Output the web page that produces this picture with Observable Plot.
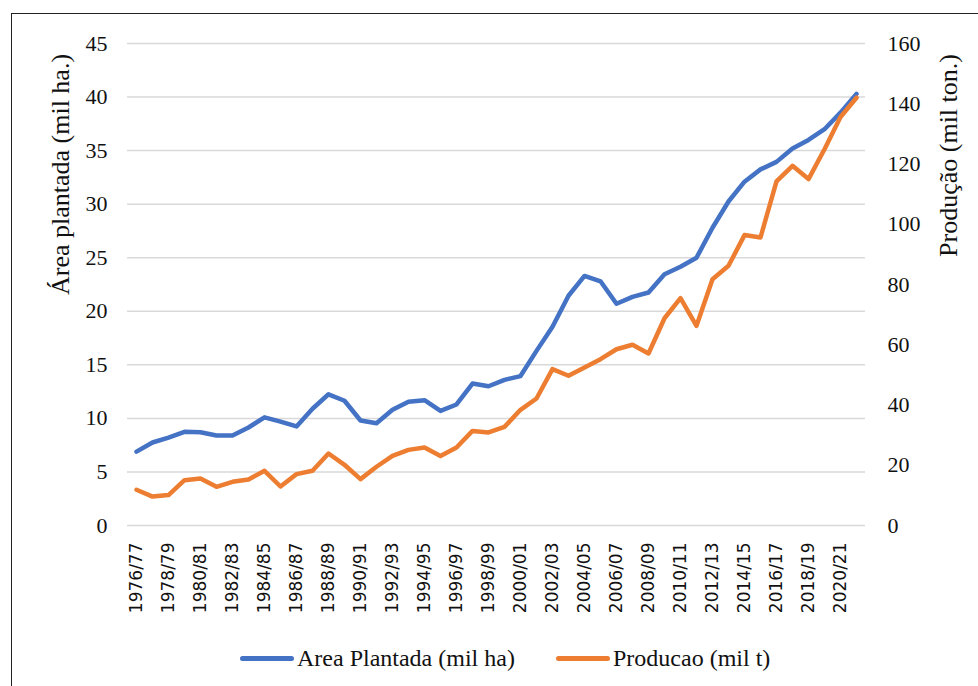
<!DOCTYPE html>
<html><head><meta charset="utf-8">
<script src="https://cdn.jsdelivr.net/npm/d3@7"></script>
<script src="https://cdn.jsdelivr.net/npm/@observablehq/plot@0.6"></script>
<style>
body{margin:0;background:#fff;}
#wrap{position:relative;width:978px;height:686px;overflow:hidden;background:#fff;}
#chart{position:absolute;left:0;top:0;}
#border{position:absolute;left:11px;top:13px;width:1000px;height:700px;border-left:1.3px solid #222;border-top:1.3px solid #222;pointer-events:none;}
.leg-line{position:absolute;height:5px;border-radius:3px;top:656px;width:54px;}
.leg-text{position:absolute;top:644px;font-size:24px;color:#111;white-space:nowrap;line-height:28px;}
</style>
</head><body>
<div id="wrap">
  <div id="chart"></div>
  <div id="border"></div>
  <div id="legend"></div>
</div>
<script>
const seasons = ["1976/77","1977/78","1978/79","1979/80","1980/81","1981/82","1982/83","1983/84","1984/85","1985/86",
"1986/87","1987/88","1988/89","1989/90","1990/91","1991/92","1992/93","1993/94","1994/95","1995/96",
"1996/97","1997/98","1998/99","1999/00","2000/01","2001/02","2002/03","2003/04","2004/05","2005/06",
"2006/07","2007/08","2008/09","2009/10","2010/11","2011/12","2012/13","2013/14","2014/15","2015/16",
"2016/17","2017/18","2018/19","2019/20","2020/21","2021/22"];
const areaPlantada = [6.9,7.75,8.2,8.75,8.7,8.4,8.4,9.15,10.1,9.7,
9.25,10.9,12.25,11.65,9.8,9.55,10.8,11.55,11.7,10.7,
11.3,13.25,13.0,13.6,13.95,16.3,18.55,21.45,23.3,22.8,
20.7,21.35,21.75,23.45,24.15,25.0,27.8,30.25,32.1,33.25,
33.95,35.2,36.0,37.0,38.55,40.3];
const producao = [11.85,9.6,10.1,15.05,15.6,12.85,14.5,15.3,18.15,12.95,
17.05,18.15,23.9,20.15,15.4,19.5,23.1,25.1,25.9,23.1,
25.9,31.4,30.9,32.75,38.4,42.15,51.9,49.7,52.45,55.2,
58.5,60.0,57.1,68.8,75.45,66.3,81.75,86.2,96.4,95.6,
114.2,119.4,115.0,124.9,135.6,142.0];
const leftTicks = [0,5,10,15,20,25,30,35,40,45];
const rightTicks = [0,20,40,60,80,100,120,140,160];
const leftMax = 45, rightMax = 160;
const xTickLabels = seasons.filter((d,i) => i % 2 === 0);
const leftTitle = "Área plantada (mil ha.)";
const rightTitle = "Produção (mil ton.)";
const seriesNames = ["Area Plantada (mil ha)", "Producao (mil t)"];
const seriesColors = ["#4472C4", "#ED7D31"];

const serif = "'Liberation Serif','Times New Roman',Times,'DejaVu Serif',serif";
const rows = seasons.map((s,i) => ({season: s, area: areaPlantada[i], prod: producao[i]}));
const toLeft = v => v * leftMax / rightMax;

const chart = Plot.plot({
  width: 978,
  height: 625,
  marginLeft: 127,
  marginRight: 113,
  marginTop: 43,
  marginBottom: 100,
  style: {fontFamily: serif, fontSize: "22px", color: "#111", background: "transparent", overflow: "visible"},
  x: {type: "point", domain: seasons, padding: 0.5, axis: null},
  y: {domain: [0, leftMax], axis: null},
  marks: [
    Plot.gridY(leftTicks, {stroke: "#d9d9d9", strokeOpacity: 1, strokeWidth: 1.5}),
    Plot.axisY(leftTicks, {anchor: "left", tickSize: 0, tickPadding: 20, fontSize: 22, fontFamily: serif, className: "yserif", fill: "#111", label: null}),
    Plot.axisY(rightTicks.map(toLeft), {anchor: "right", tickSize: 0, tickPadding: 22, fontSize: 22, fontFamily: serif, className: "yserif", fill: "#111", label: null, tickFormat: d => String(Math.round(d * rightMax / leftMax))}),
    Plot.axisX(xTickLabels, {anchor: "bottom", tickSize: 0, tickPadding: 17, tickRotate: -90, fontSize: 17, fontFamily: "DejaVu Sans", fill: "#111", label: null}),
    Plot.lineY(rows, {x: "season", y: "area", stroke: seriesColors[0], strokeWidth: 4.5, strokeLinejoin: "round", strokeLinecap: "round"}),
    Plot.lineY(rows, {x: "season", y: d => toLeft(d.prod), stroke: seriesColors[1], strokeWidth: 4.5, strokeLinejoin: "round", strokeLinecap: "round"}),
    Plot.text([leftTitle], {frameAnchor: "left", textAnchor: "middle", dx: -67, dy: -110, rotate: -90, fontSize: 26, fontFamily: serif, fill: "#111"}),
    Plot.text([rightTitle], {frameAnchor: "right", textAnchor: "middle", dx: 83, dy: -129, rotate: -90, fontSize: 26, fontFamily: serif, fill: "#111"})
  ]
});
document.getElementById("chart").appendChild(chart);

// force serif on the y tick labels (inline style wins over any inherited rule)
d3.select(chart).selectAll("text").each(function() {
  const t = this.textContent;
  if (/^\d+$/.test(t)) {
    this.style.fontFamily = "Liberation Serif, Times New Roman, serif";
    this.style.fontSize = "22px";
  }
});

// legend
const legendX = [240, 556];
const legend = document.getElementById("legend");
seriesNames.forEach((name, i) => {
  const line = document.createElement("div");
  line.className = "leg-line";
  line.style.left = legendX[i] + "px";
  line.style.background = seriesColors[i];
  legend.appendChild(line);
  const txt = document.createElement("div");
  txt.className = "leg-text";
  txt.style.left = (legendX[i] + 57) + "px";
  txt.style.fontFamily = "Liberation Serif, Times New Roman, serif";
  txt.textContent = name;
  legend.appendChild(txt);
});
</script>
</body></html>
